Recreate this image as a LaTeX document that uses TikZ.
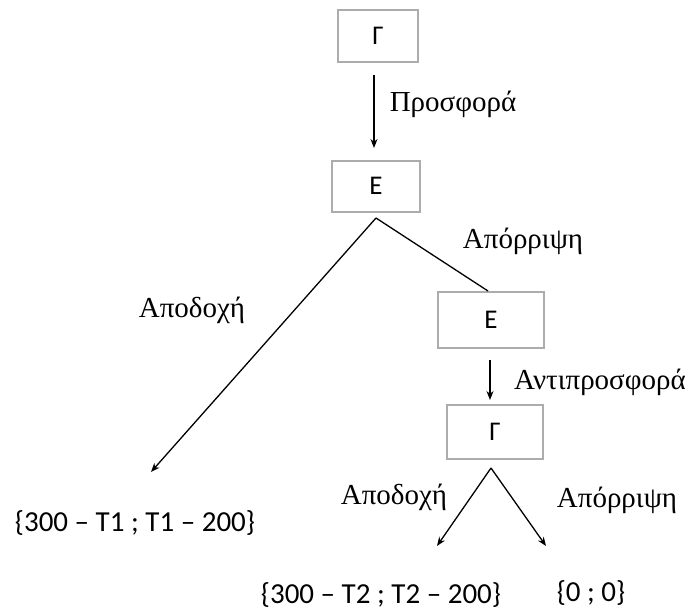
\documentclass[tikz,border=0pt]{standalone}
\usepackage{fontspec}
\setmainfont{Liberation Serif}
\newfontfamily\boxfont{Carlito}
\usetikzlibrary{arrows.meta}
\begin{document}
\begin{tikzpicture}[x=1pt,y=-1pt,
  stagebox/.style={draw=gray!65, line width=2pt, inner sep=0pt, font=\boxfont\fontsize{27}{27}\selectfont},
  lbl/.style={font=\fontsize{29}{29}\selectfont},
  pay/.style={anchor=base, inner sep=0pt, font=\boxfont\fontsize{29}{29}\selectfont},
  arr/.style={line width=1.3pt, -{Stealth[length=9pt,width=7pt]}},
  ln/.style={line width=1.3pt}]
\useasboundingbox (0,0) rectangle (689,610);
\node[stagebox, minimum width=80pt, minimum height=52pt] (g1) at (378,36) {Γ};
\node[stagebox, minimum width=88pt, minimum height=51pt] (e1) at (376,186) {Ε};
\node[stagebox, minimum width=106pt, minimum height=56pt] (e2) at (491,320) {Ε};
\node[stagebox, minimum width=96pt, minimum height=54pt] (g2) at (495,432) {Γ};
\coordinate (a1) at (374,75);
\coordinate (a2) at (374,148);
\coordinate (b0) at (376,218);
\coordinate (b1) at (151,472);
\coordinate (c1) at (490,360);
\coordinate (c2) at (490,400);
\coordinate (d0) at (491,468);
\coordinate (d1) at (437,546);
\coordinate (d2) at (546,546);
\draw[arr] (a1) -- (a2);
\draw[arr] (b0) -- (b1);
\draw[ln] (b0) -- (e2.north -| 488,0);
\draw[arr] (c1) -- (c2);
\draw[arr] (d0) -- (d1);
\draw[arr] (d0) -- (d2);
\node[lbl] (l1) at (453,104) {Προσφορά};
\node[lbl] (l2) at (523,241) {Απόρριψη};
\node[lbl] (l3) at (192,310) {Αποδοχή};
\node[lbl] (l4) at (600,382) {Αντιπροσφορά};
\node[lbl] (l5) at (394,497) {Αποδοχή};
\node[lbl] (l6) at (617,500) {Απόρριψη};
\node[pay] (p1) at (135,531) {\{300 – T1 ; T1 – 200\}};
\node[pay] (p2) at (381,603) {\{300 – T2 ; T2 – 200\}};
\node[pay] (p3) at (591,601) {\{0 ; 0\}};
\end{tikzpicture}
\end{document}
